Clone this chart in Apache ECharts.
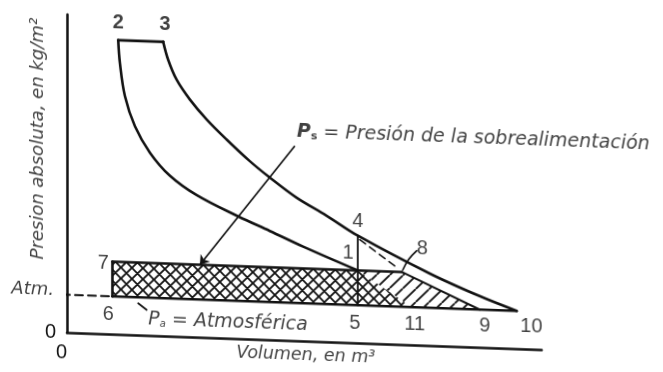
<!DOCTYPE html>
<html>
<head>
<meta charset="utf-8">
<script src="https://cdn.jsdelivr.net/npm/echarts@6/dist/echarts.min.js"></script>
<style>
  html, body { margin: 0; padding: 0; background: #fff; overflow: hidden; }
  /* the scanned figure is slightly sheared: horizontals fall to the right */
  #chart { width: 663px; height: 372px; background: #fff; transform: skewY(2.06deg); }
</style>
</head>
<body>
<div id="chart"></div>
<script>
var INK = '#121212';

// cycle, in (volume, pressure) units
var topEdge = [[5.13, 29.6], [9.63, 29.6]];                                 // 2-3
var expansion = [[9.63, 29.6], [10.13, 27.8], [10.97, 25.84], [12.3, 23.89], [13.97, 21.95],
                 [15.97, 20.0], [18.3, 17.9], [20.13, 16.45], [22.97, 14.4], [25.97, 12.7],
                 [29.1, 10.8], [36.3, 7.25], [41.3, 5.15], [45.0, 3.8]];    // 3-4-10
var compression = [[5.13, 29.6], [5.3, 27.3], [5.8, 24.0], [6.8, 21.0], [8.3, 18.4],
                   [10.3, 16.15], [12.97, 14.3], [17.13, 12.3], [20.3, 10.95], [23.63, 9.5],
                   [29.1, 7.3]];                                              // 2-1
var boostLine = [[4.55, 7.3], [33.5, 7.3]];       // 7-1-8
var atmLine = [[4.55, 3.8], [45.0, 3.8]];         // 6-5-11-9-10
var leftEdge = [[4.55, 7.3], [4.55, 3.8]];        // 7-6
var strokeEnd = [[29.1, 10.8], [29.1, 3.8]];      // 4-1-5
var exhaustLine = [[33.5, 7.3], [41.3, 3.8]];     // 8-9
var blowDown = [[29.3, 10.4], [33.2, 7.6]];       // 4-8 dashed
var atmDash = [[-0.5, 3.8], [4.55, 3.8]];
var leader8 = [[33.6, 7.5], [34.2, 8.6], [35.0, 9.5]];
var paTick = [[7.13, 3.2], [7.97, 2.56]];
var psArrow = [[22.8, 19.6], [13.3, 7.3]];

var crossZone = [[4.55, 7.3], [29.1, 7.3], [34.5, 3.8], [4.55, 3.8]];     // 7-1-11-6
var singleZone = [[29.1, 7.3], [33.5, 7.3], [41.3, 3.8], [34.5, 3.8]];    // 1-8-9-11

var pointNames = ['2', '3', '4', '1', '5', '11', '9', '10', '6', '7', '8'];
var pointSpots = [[5.13, 31.3], [9.8, 31.3], [29.1, 12.25], [28.13, 8.96], [28.8, 1.98], [34.8, 2.03],
                  [41.8, 2.12], [46.47, 2.29], [4.13, 1.93], [3.63, 7.08], [35.55, 9.68]];

var yTitle = 'Presion absoluta, en kg/m²';
var xTitle = 'Volumen, en m³';
var psText = ' = Presión de la sobrealimentación';
var paText = ' = Atmosférica';

function hatch(size, both) {
  var c = document.createElement('canvas');
  c.width = c.height = size;
  var g = c.getContext('2d');
  g.strokeStyle = INK;
  g.lineWidth = 1.8;
  g.beginPath();
  for (var k = -1; k <= 1; k++) {
    g.moveTo(k * size, size);
    g.lineTo(k * size + size, 0);
    if (both) {
      g.moveTo(k * size, 0);
      g.lineTo(k * size + size, size);
    }
  }
  g.stroke();
  return c;
}

function zone(points, pattern) {
  return {
    type: 'custom',
    data: points,
    silent: true,
    z: 1,
    renderItem: function (params, api) {
      if (params.dataIndex !== 0) return;
      return {
        type: 'polygon',
        shape: { points: points.map(function (p) { return api.coord(p); }) },
        style: { fill: { image: pattern, repeat: 'repeat' }, stroke: null }
      };
    }
  };
}

function seg(data, width, dash, smooth) {
  return {
    type: 'line',
    data: data,
    symbol: 'none',
    smooth: smooth || false,
    silent: true,
    clip: false,
    z: 3,
    lineStyle: { color: INK, width: width, type: dash || 'solid', cap: 'round' }
  };
}

var chart = echarts.init(document.getElementById('chart'));
chart.setOption({
  animation: false,
  grid: { left: 67, right: 121, top: 24, bottom: 28 },
  xAxis: {
    type: 'value', min: 0, max: 47.5, interval: 100,
    axisLine: { lineStyle: { color: INK, width: 2.5 } },
    axisTick: { show: false },
    splitLine: { show: false },
    axisLabel: {
      showMaxLabel: false, margin: 10, align: 'right',
      fontFamily: 'Liberation Sans', fontSize: 20, color: INK,
      formatter: function (v) { return v === 0 ? '0' : ''; }
    }
  },
  yAxis: {
    type: 'value', min: 0, max: 32, interval: 100,
    axisLine: { lineStyle: { color: INK, width: 2.5 } },
    axisTick: { show: false },
    splitLine: { show: false },
    axisLabel: {
      showMaxLabel: false, margin: 11,
      fontFamily: 'Liberation Sans', fontSize: 20, color: INK,
      formatter: function (v) { return v === 0 ? '0' : ''; }
    }
  },
  series: [
    zone(crossZone, hatch(11, true)),
    zone(singleZone, hatch(13, false)),
    seg(topEdge, 2.8),
    seg(expansion, 2.6, null, 0.35),
    seg(compression, 2.6, null, 0.35),
    seg(boostLine, 2.6),
    seg(atmLine, 2.6),
    seg(leftEdge, 2.6),
    seg(strokeEnd, 1.8),
    seg(exhaustLine, 2),
    seg(blowDown, 1.6, [7, 5]),
    seg(atmDash, 1.8, [8, 5]),
    seg(leader8, 1.6, null, 0.4),
    seg(paTick, 1.8),
    {
      type: 'lines',
      coordinateSystem: 'cartesian2d',
      silent: true,
      z: 4,
      symbol: ['none', 'arrow'],
      symbolSize: 9,
      lineStyle: { color: INK, width: 1.6, opacity: 1 },
      data: [{ coords: psArrow }]
    },
    {
      type: 'scatter',
      clip: false,
      silent: true,
      symbolSize: 0,
      itemStyle: { color: 'transparent' },
      z: 5,
      label: {
        show: true, position: 'inside', formatter: '{b}',
        fontFamily: 'Liberation Sans', fontSize: 20, color: INK
      },
      data: pointNames.map(function (n, i) {
        var item = { name: n, value: pointSpots[i] };
        if (n === '2' || n === '3') item.label = { fontWeight: 'bold' };
        return item;
      })
    },
    {
      type: 'scatter',
      clip: false,
      silent: true,
      symbolSize: 0,
      itemStyle: { color: 'transparent' },
      z: 5,
      data: [
        {
          value: [-2.9, 19.39],
          label: { show: true, position: 'inside', rotate: 90, formatter: yTitle,
                   fontFamily: 'DejaVu Sans', fontStyle: 'italic', fontSize: 18, color: INK }
        },
        {
          value: [23.9, -1.49],
          label: { show: true, position: 'inside', formatter: xTitle,
                   fontFamily: 'DejaVu Sans', fontStyle: 'italic', fontSize: 17.5, color: INK }
        },
        {
          value: [-1.3, 4.2],
          label: { show: true, position: 'left', distance: 0, formatter: 'Atm.',
                   fontFamily: 'DejaVu Sans', fontStyle: 'italic', fontSize: 18, color: INK }
        },
        {
          value: [23.0, 21.0],
          label: {
            show: true, position: 'right', distance: 0,
            formatter: '{p|P}{s|s}{t|' + psText + '}',
            rich: {
              p: { fontFamily: 'DejaVu Sans', fontStyle: 'italic', fontWeight: 'bold', fontSize: 19, color: INK },
              s: { fontFamily: 'DejaVu Sans', fontWeight: 'bold', fontSize: 11, color: INK, verticalAlign: 'bottom' },
              t: { fontFamily: 'DejaVu Sans', fontStyle: 'italic', fontSize: 19, color: INK }
            }
          }
        },
        {
          value: [8.13, 1.58],
          label: {
            show: true, position: 'right', distance: 0,
            formatter: '{p|P}{s|a}{t|' + paText + '}',
            rich: {
              p: { fontFamily: 'DejaVu Sans', fontStyle: 'italic', fontSize: 19, color: INK },
              s: { fontFamily: 'DejaVu Sans', fontStyle: 'italic', fontSize: 10, color: INK, verticalAlign: 'bottom' },
              t: { fontFamily: 'DejaVu Sans', fontStyle: 'italic', fontSize: 19, color: INK }
            }
          }
        }
      ]
    }
  ]
});
</script>
</body>
</html>
